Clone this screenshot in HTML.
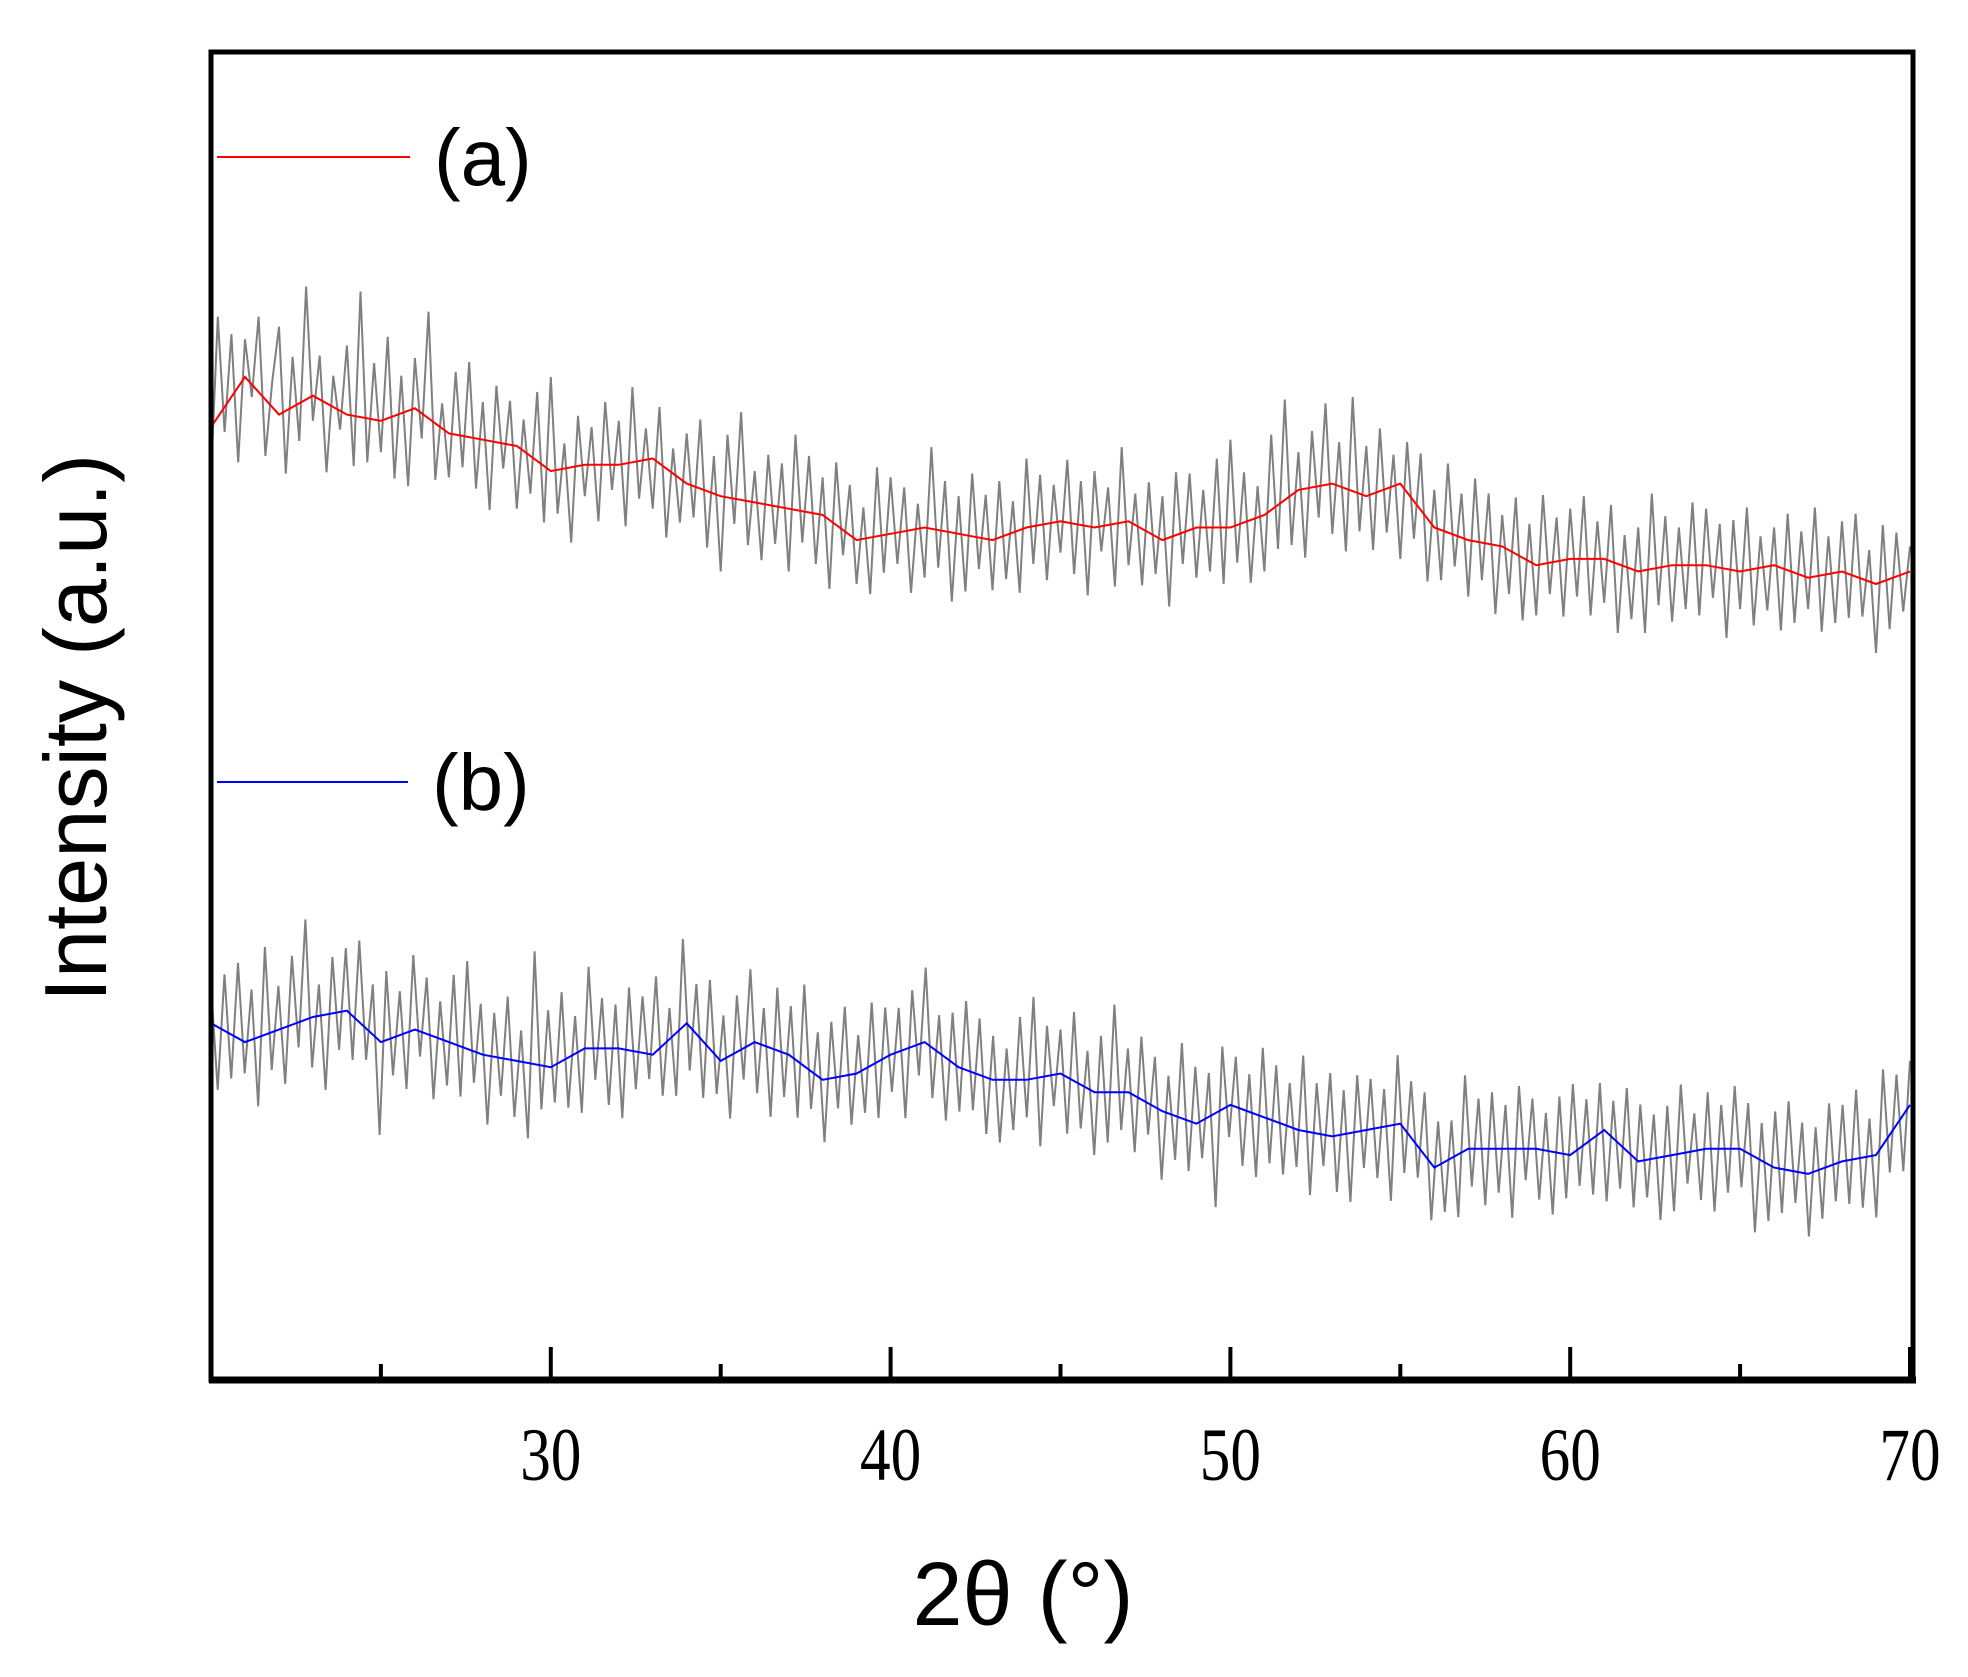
<!DOCTYPE html>
<html><head><meta charset="utf-8"><style>
html,body{margin:0;padding:0;background:#fff;}
svg{display:block;}
</style></head><body>
<svg id="chart" width="1968" height="1677" viewBox="0 0 1968 1677" xmlns="http://www.w3.org/2000/svg">
<rect x="0" y="0" width="1968" height="1677" fill="#fff"/>
<g id="plot"></g>
<rect x="211" y="52" width="1702" height="1328" fill="none" stroke="#000" stroke-width="5"/>
<line x1="209" y1="1380" x2="1916" y2="1380" stroke="#000" stroke-width="7"/>
<g id="xticks"></g>
<text x="1023" y="1625" font-family="Liberation Sans, sans-serif" font-size="90" text-anchor="middle">2θ (°)</text>
<text transform="translate(106,728) rotate(-90)" font-family="Liberation Sans, sans-serif" font-size="88" text-anchor="middle" textLength="548" lengthAdjust="spacingAndGlyphs">Intensity (a.u.)</text>
<line x1="217" y1="157" x2="410" y2="157" stroke="#ff0000" stroke-width="2"/>
<text x="434" y="185" font-family="Liberation Sans, sans-serif" font-size="80">(a)</text>
<line x1="217" y1="782" x2="408" y2="782" stroke="#0000ff" stroke-width="2"/>
<text x="432" y="810" font-family="Liberation Sans, sans-serif" font-size="80">(b)</text>
</svg>
<script>
const xTicksMajor = [30, 40, 50, 60, 70];
const xTicksMinor = [25, 35, 45, 55, 65];
const xTickLabels = ["30", "40", "50", "60", "70"];
const smoothX = [20,21,22,23,24,25,26,27,28,29,30,31,32,33,34,35,36,37,38,39,40,41,42,43,44,45,46,47,48,49,50,51,52,53,54,55,56,57,58,59,60,61,62,63,64,65,66,67,68,69,70];
const redSmooth = [760,800,770,785,770,765,775,755,750,745,725,730,730,735,715,705,700,695,690,670,675,680,675,670,680,685,680,685,670,680,680,690,710,715,705,715,680,670,665,650,655,655,645,650,650,645,650,640,645,635,645];
const blueSmooth = [285,270,280,290,295,270,280,270,260,255,250,265,265,260,285,255,270,260,240,245,260,270,250,240,240,245,230,230,215,205,220,210,200,195,200,205,170,185,185,185,180,200,175,180,185,185,170,165,175,180,220];
const redNoise = [-40,80,-20,50,-60,30,-10,60,-45,20,70,-50,40,-30,90,-20,35,-55,25,-15,55,-40,100,-35,45,-25,65,-50,30,-60,40,-20,85,-45,20,-35,50,-25,60,-40,30,-55,45,-20,35,-50,25,-30,55,-45,75,-35,20,-60,40,-25,30,-45,50,-20,35,-50,60,-30,25,-40,45,-55,20,-35,40,-25,55,-45,30,-60,50,-20,70,-35,25,-45,40,-30,35,-50,60,-25,45,-40,30,-55,50,-20,40,-35,25,-45,55,-30,45,-25,35,-50,20,-40,65,-30,40,-55,30,-45,50,-25,35,-40,45,-35,25,-50,55,-30,40,-45,30,-25,50,-40,35,-55,45,-20,30,-50,60,-35,25,-45,40,-30,35,-55,50,-25,45,-40,30,-35,55,-45,70,-30,40,-50,25,-45,60,-35,80,-40,30,-55,45,-25,65,-40,35,-50,75,-30,40,-45,50,-35,25,-60,40,-30,45,-50,30,-40,55,-25,35,-45,50,-30,40,-55,25,-35,45,-50,30,-40,55,-25,35,-45,40,-30,50,-45,30,-35,45,-55,25,-40,35,-50,60,-30,40,-45,30,-35,50,-40,45,-25,35,-55,40,-30,50,-45,25,-35,30,-50,45,-40,35,-25,55,-45,30,-40,40,-35,50,-30,25,-55,45,-40,35,-30,20];
const blueNoise = [30,-50,45,-35,60,-25,40,-55,70,-30,35,-45,55,-20,80,-40,25,-60,45,-30,50,-35,65,-25,40,-75,55,-30,35,-45,60,-20,45,-50,30,-35,55,-40,70,-25,40,-55,35,-30,50,-45,25,-60,90,-35,45,-30,55,-40,30,-50,65,-25,40,-45,35,-55,50,-30,45,-20,60,-40,25,-50,70,-35,40,-45,55,-30,35,-50,45,-25,60,-40,30,-55,50,-35,40,-45,65,-30,35,-50,45,-25,55,-40,30,-35,50,-45,40,-30,35,-55,45,-25,60,-40,30,-50,40,-35,55,-30,45,-45,35,-50,25,-40,50,-30,65,-55,40,-25,35,-45,55,-35,30,-50,45,-40,70,-30,35,-45,50,-25,40,-55,30,-35,60,-40,45,-30,35,-75,50,-25,40,-45,30,-50,55,-35,45,-40,35,-30,60,-50,40,-25,50,-45,35,-55,45,-30,40,-40,30,-60,55,-35,45,-25,50,-45,35,-40,30,-50,60,-30,40,-45,45,-35,35,-55,50,-25,40,-40,30,-50,45,-35,55,-30,35,-45,40,-55,30,-35,50,-40,45,-30,35,-50,40,-45,55,-25,30,-40,45,-50,35,-35,50,-30,40,-60,30,-45,45,-35,55,-25,40,-50,35,-40,50,-30,45,-35,55,-40,30,-50,60,-30,40,-45,35];
const noiseStart = 20;
const noiseEnd = 70;

const NS = 'http://www.w3.org/2000/svg';
const X0 = 20, X1 = 70, PX0 = 211, PX1 = 1910;
function xScale(v){ return PX0 + (v - X0) / (X1 - X0) * (PX1 - PX0); }
function yScale(v){ return 1381 - v * 1.2551; }
function interp(xs, ys, x){
  if (x <= xs[0]) return ys[0];
  for (let i = 1; i < xs.length; i++){
    if (x <= xs[i]){ const t = (x - xs[i-1]) / (xs[i] - xs[i-1]); return ys[i-1] + t * (ys[i] - ys[i-1]); }
  }
  return ys[ys.length-1];
}
const plot = document.getElementById('plot');
function noisePath(base, noise){
  let d = '';
  const step = (noiseEnd - noiseStart) / (noise.length - 1);
  noise.forEach((n, i) => {
    const x = noiseStart + i * step;
    const v = interp(smoothX, base, x) + n;
    d += (i ? 'L' : 'M') + xScale(x).toFixed(1) + ',' + yScale(v).toFixed(1);
  });
  return d;
}
function smoothPath(base){
  return base.map((v, i) => (i ? 'L' : 'M') + xScale(smoothX[i]).toFixed(1) + ',' + yScale(v).toFixed(1)).join('');
}
const gA = document.createElementNS(NS, 'path');
gA.setAttribute('d', noisePath(redSmooth, redNoise));
gA.setAttribute('fill', 'none'); gA.setAttribute('stroke', '#808080'); gA.setAttribute('stroke-width', '2');


plot.appendChild(gA);
const gB = document.createElementNS(NS, 'path');
gB.setAttribute('d', noisePath(blueSmooth, blueNoise));
gB.setAttribute('fill', 'none'); gB.setAttribute('stroke', '#808080'); gB.setAttribute('stroke-width', '2');


plot.appendChild(gB);
const sA = document.createElementNS(NS, 'path');
sA.setAttribute('d', smoothPath(redSmooth));
sA.setAttribute('fill', 'none'); sA.setAttribute('stroke', '#ff0000'); sA.setAttribute('stroke-width', '2');


plot.appendChild(sA);
const sB = document.createElementNS(NS, 'path');
sB.setAttribute('d', smoothPath(blueSmooth));
sB.setAttribute('fill', 'none'); sB.setAttribute('stroke', '#0000ff'); sB.setAttribute('stroke-width', '2');


plot.appendChild(sB);

const xt = document.getElementById('xticks');
xTicksMajor.forEach((v, i) => {
  const l = document.createElementNS(NS, 'line');
  l.setAttribute('x1', xScale(v)); l.setAttribute('x2', xScale(v));
  l.setAttribute('y1', 1347); l.setAttribute('y2', 1380);
  l.setAttribute('stroke', '#000'); l.setAttribute('stroke-width', '4');
  
  
  xt.appendChild(l);
  const t = document.createElementNS(NS, 'text');
  t.setAttribute('transform', 'translate(' + xScale(v) + ',1480) scale(0.85,1.05)');
  t.setAttribute('text-anchor', 'middle');
  t.setAttribute('font-family', 'Liberation Serif, serif');
  t.setAttribute('font-size', '72');
  t.textContent = xTickLabels[i];
  
  
  xt.appendChild(t);
});
xTicksMinor.forEach(v => {
  const l = document.createElementNS(NS, 'line');
  l.setAttribute('x1', xScale(v)); l.setAttribute('x2', xScale(v));
  l.setAttribute('y1', 1364); l.setAttribute('y2', 1380);
  l.setAttribute('stroke', '#000'); l.setAttribute('stroke-width', '4');
  
  
  xt.appendChild(l);
});
</script>
</body></html>
